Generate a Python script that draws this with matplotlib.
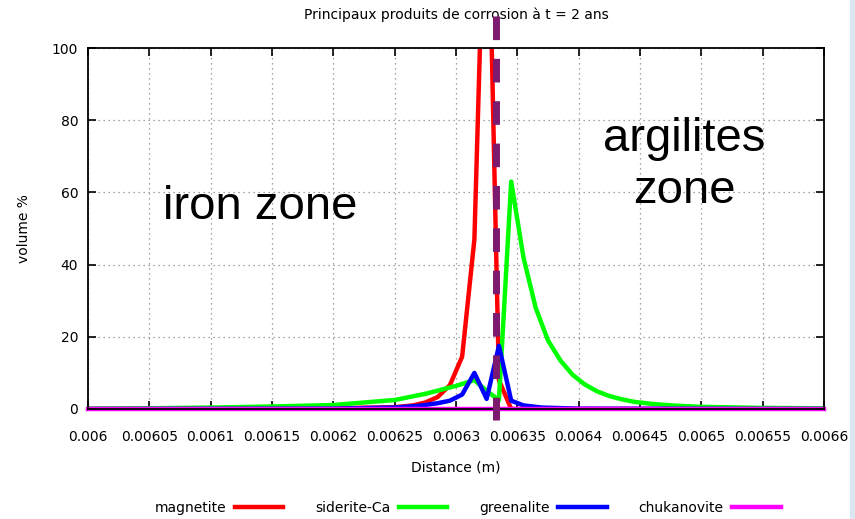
import matplotlib
matplotlib.use("Agg")
import matplotlib.pyplot as plt
from matplotlib.patches import Rectangle

# data (x in m, y in volume %)
magnetite_x = [0.006, 0.0061, 0.0062, 0.00625, 0.006265, 0.006275, 0.006285, 0.006295,
               0.006305, 0.006315, 0.006325, 0.006335, 0.006345, 0.0066]
magnetite_y = [0.0, 0.05, 0.2, 0.5, 1.0, 1.8, 3.3, 6.6, 14.5, 47.0, 165.0, 8.0, 0.0, 0.0]

siderite_x = [0.006, 0.00605, 0.0061, 0.00615, 0.0062, 0.00625, 0.006275, 0.0063,
              0.006315, 0.006325, 0.006335, 0.006345, 0.006355, 0.006365, 0.006375,
              0.006385, 0.006395, 0.006405, 0.006415, 0.006425, 0.006435, 0.006445,
              0.00646, 0.00648, 0.0065, 0.00655, 0.0066]
siderite_y = [0.1, 0.2, 0.4, 0.7, 1.1, 2.5, 4.2, 6.4, 8.0, 5.0, 2.5, 63.0, 42.0, 28.0,
              19.0, 13.5, 9.5, 6.8, 4.9, 3.6, 2.7, 2.0, 1.4, 0.9, 0.6, 0.3, 0.2]

greenalite_x = [0.006, 0.0062, 0.00625, 0.00627, 0.006285, 0.006295, 0.006305, 0.006315,
                0.006325, 0.006335, 0.006345, 0.006355, 0.00637, 0.0064, 0.0066]
greenalite_y = [0.0, 0.1, 0.4, 0.9, 1.6, 2.3, 4.0, 10.0, 2.8, 17.5, 2.3, 1.0, 0.4, 0.1, 0.0]

chukanovite_x = [0.006, 0.0066]
chukanovite_y = [0.0, 0.0]

interface_x = 0.006333

xticks = [0.006, 0.00605, 0.0061, 0.00615, 0.0062, 0.00625, 0.0063, 0.00635,
          0.0064, 0.00645, 0.0065, 0.00655, 0.0066]
xtick_labels = ["0.006", "0.00605", "0.0061", "0.00615", "0.0062", "0.00625", "0.0063",
                "0.00635", "0.0064", "0.00645", "0.0065", "0.00655", "0.0066"]
yticks = [0, 20, 40, 60, 80, 100]

fig = plt.figure(figsize=(8.55, 5.19), dpi=100)
ax = fig.add_axes([88/855, 1-409/519, (824-88)/855, (409-48)/519])

lw = 3.2
ax.plot(magnetite_x, magnetite_y, color="#ff0000", lw=lw, label="magnetite")
ax.plot(siderite_x, siderite_y, color="#00ff00", lw=lw, label="siderite-Ca")
ax.plot(greenalite_x, greenalite_y, color="#0000ff", lw=lw, label="greenalite")
ax.plot(chukanovite_x, chukanovite_y, color="#ff00ff", lw=lw, label="chukanovite",
        clip_on=False)

# interface between iron and argilites
ax.plot([interface_x, interface_x], [109, -3], color="#7b1a6e", lw=5,
        dashes=(3.4, 2.7), clip_on=False, zorder=5)

ax.set_xlim(0.006, 0.0066)
ax.set_ylim(0, 100)
ax.set_xticks(xticks)
ax.set_xticklabels(xtick_labels)
ax.set_yticks(yticks)
ax.tick_params(direction="in", length=6, width=1.2, top=True, right=True, labelsize=10)
ax.tick_params(axis="x", pad=15)
ax.tick_params(axis="y", pad=7)
ax.grid(True, linestyle=(0, (1, 3)), color="#888888", lw=0.9)
for s in ax.spines.values():
    s.set_linewidth(1.3)

ax.set_title("Principaux produits de corrosion à t = 2 ans", fontsize=10, pad=21)
ax.set_xlabel("Distance (m)", fontsize=10, labelpad=12)
ax.set_ylabel("volume %", fontsize=10, labelpad=15)

ax.text(0.00614, 56, "iron zone", fontsize=34, family="Liberation Sans",
        ha="center", va="center")
ax.text(0.006486, 67.6, "argilites\nzone", fontsize=34, family="Liberation Sans",
        ha="center", va="center", linespacing=1.25)

fig.legend(loc="lower center", ncol=4, frameon=False, markerfirst=False, fontsize=10,
           handlelength=3.5, handletextpad=0.6, columnspacing=2.3,
           bbox_to_anchor=(0.547, -0.017))

fig.patches.append(Rectangle((850/855, 0), 5/855, 1, transform=fig.transFigure,
                             color="#dce6f2", zorder=0))

fig.savefig("out.png", dpi=100)
